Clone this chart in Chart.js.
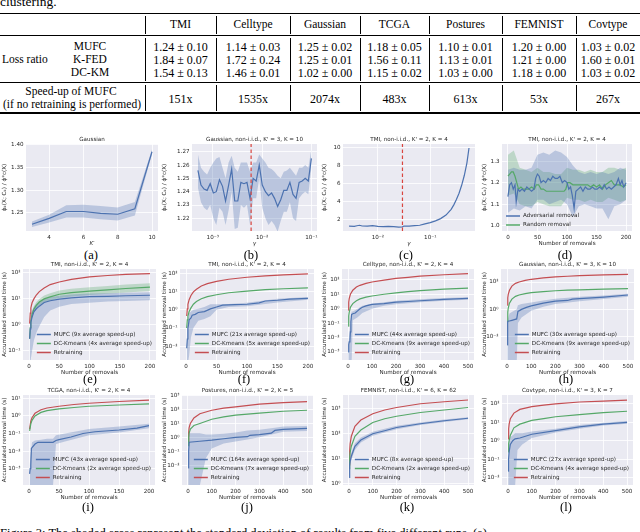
<!DOCTYPE html>
<html>
<head>
<meta charset="utf-8">
<script src="https://cdn.jsdelivr.net/npm/chart.js@4.4.1/dist/chart.umd.min.js"></script>
<style>
  body { margin: 0; background: #fff; }
  #page { position: relative; width: 640px; height: 532px; overflow: hidden; font-family: "Liberation Serif", serif; color: #000; }
  .t { position: absolute; white-space: nowrap; line-height: 1; }
  .rule { position: absolute; left: 0; width: 640px; background: #000; }
  .vl { position: absolute; width: 0.8px; background: #000; }
  canvas { position: absolute; }
</style>
</head>
<body>
<div id="page"></div>
<script>
// ---- table ----
const tableCols = ['TMI', 'Celltype', 'Gaussian', 'TCGA', 'Postures', 'FEMNIST', 'Covtype'];
const mufcLoss = ['1.24 ± 0.10', '1.14 ± 0.03', '1.25 ± 0.02', '1.18 ± 0.05', '1.10 ± 0.01', '1.20 ± 0.00', '1.03 ± 0.02'];
const kfedLoss = ['1.84 ± 0.07', '1.72 ± 0.24', '1.25 ± 0.01', '1.56 ± 0.11', '1.13 ± 0.01', '1.21 ± 0.00', '1.60 ± 0.01'];
const dckmLoss = ['1.54 ± 0.13', '1.46 ± 0.01', '1.02 ± 0.00', '1.15 ± 0.02', '1.03 ± 0.00', '1.18 ± 0.00', '1.03 ± 0.02'];
const speedups = ['151x', '1535x', '2074x', '483x', '613x', '53x', '267x'];

// ---- (a) loss ratio vs K' ----
const aK = [3, 4, 5, 6, 7, 8, 9, 10];
const aMean = [1.225, 1.238, 1.253, 1.253, 1.249, 1.247, 1.259, 1.385];
const aLo = [1.219, 1.229, 1.240, 1.240, 1.236, 1.233, 1.244, 1.380];
const aHi = [1.231, 1.246, 1.267, 1.268, 1.265, 1.262, 1.274, 1.390];

// ---- (b) loss ratio vs gamma ----
const bGamma = [5.01e-4, 5.78e-4, 6.67e-4, 7.70e-4, 8.89e-4, 1.03e-3, 1.18e-3, 1.37e-3, 1.58e-3, 1.82e-3,
  2.10e-3, 2.42e-3, 2.79e-3, 3.22e-3, 3.72e-3, 4.29e-3, 4.95e-3, 5.71e-3, 6.59e-3, 7.60e-3,
  8.77e-3, 1.01e-2, 1.17e-2, 1.35e-2, 1.56e-2, 1.79e-2, 2.07e-2, 2.39e-2, 2.76e-2, 3.18e-2,
  3.67e-2, 4.24e-2, 4.89e-2, 5.64e-2, 6.51e-2, 7.51e-2, 8.67e-2, 1.00e-1];
const bMean = [1.256, 1.245, 1.242, 1.241, 1.246, 1.239, 1.240, 1.249, 1.244, 1.233,
  1.245, 1.257, 1.233, 1.233, 1.247, 1.246, 1.247, 1.235, 1.250, 1.248,
  1.260, 1.245, 1.240, 1.237, 1.239, 1.235, 1.229, 1.234, 1.241, 1.241,
  1.247, 1.238, 1.235, 1.247, 1.248, 1.250, 1.248, 1.265];
const bLo = [1.243, 1.232, 1.228, 1.226, 1.230, 1.220, 1.215, 1.228, 1.225, 1.215,
  1.226, 1.240, 1.212, 1.213, 1.230, 1.228, 1.230, 1.215, 1.235, 1.235,
  1.250, 1.228, 1.220, 1.215, 1.218, 1.215, 1.210, 1.218, 1.225, 1.225,
  1.232, 1.220, 1.218, 1.235, 1.238, 1.240, 1.238, 1.258];
const bHi = [1.268, 1.258, 1.255, 1.253, 1.258, 1.262, 1.265, 1.266, 1.258, 1.250,
  1.262, 1.267, 1.258, 1.255, 1.262, 1.262, 1.262, 1.255, 1.262, 1.262,
  1.268, 1.265, 1.262, 1.258, 1.257, 1.255, 1.252, 1.250, 1.255, 1.256,
  1.258, 1.255, 1.252, 1.258, 1.258, 1.260, 1.258, 1.272];
const bStar = [6.0e-3];

// ---- (c) loss ratio vs gamma (TMI) ----
const cGamma = [0.00282, 0.00355, 0.00398, 0.00447, 0.00501, 0.00631, 0.00794, 0.0100, 0.0126, 0.0158,
  0.0200, 0.0251, 0.0295, 0.0316, 0.0398, 0.0501, 0.0631, 0.0794, 0.100, 0.126,
  0.158, 0.200, 0.251, 0.282, 0.316, 0.355, 0.398, 0.447, 0.501, 0.550];
const cMean = [1.20, 1.18, 1.25, 1.30, 1.22, 1.20, 1.25, 1.18, 1.15, 1.18,
  1.15, 1.10, 1.12, 1.22, 1.20, 1.25, 1.30, 1.45, 1.60, 1.80,
  2.05, 2.45, 3.10, 3.60, 4.20, 4.90, 5.80, 6.90, 8.30, 10.0];
const cStar = [0.0295];

// ---- (d) adversarial vs random removal ----
const dAdvX = [0, 3, 6, 9, 12, 14, 17, 20, 24, 28, 32, 36, 40, 44, 47, 50, 53, 56, 60, 64, 68, 72, 76, 80, 84, 88,
  92, 96, 100, 103, 106, 109, 112, 115, 119, 123, 127, 131, 135, 139, 143, 147, 151, 155, 159, 163, 167,
  171, 175, 179, 183, 187, 190, 193, 196, 200];
const dAdv = [1.135, 1.19, 1.20, 1.17, 1.19, 1.11, 1.17, 1.16, 1.17, 1.16, 1.18, 1.17, 1.16, 1.17, 1.22,
  1.24, 1.23, 1.20, 1.21, 1.20, 1.22, 1.21, 1.23, 1.22, 1.22, 1.23, 1.20, 1.21, 1.20, 1.17,
  1.18, 1.14, 1.08, 1.16, 1.17, 1.18, 1.16, 1.18, 1.17, 1.17, 1.18, 1.17, 1.17, 1.18, 1.17,
  1.19, 1.17, 1.18, 1.17, 1.18, 1.19, 1.22, 1.19, 1.21, 1.18, 1.20];
const dRandX = [0, 3, 6, 9, 12, 15, 18, 22, 26, 30, 35, 40, 45, 48, 52, 56, 60, 65, 70, 75, 80, 85, 90, 95, 98,
  101, 105, 110, 115, 120, 125, 130, 135, 140, 145, 150, 155, 160, 165, 170, 175, 180, 185, 190, 195, 200];
const dRand = [1.23, 1.24, 1.25, 1.25, 1.23, 1.20, 1.17, 1.18, 1.17, 1.17, 1.17, 1.18, 1.17, 1.19, 1.19,
  1.17, 1.17, 1.16, 1.16, 1.16, 1.16, 1.16, 1.16, 1.16, 1.17, 1.20, 1.20, 1.19, 1.19, 1.19,
  1.19, 1.19, 1.19, 1.18, 1.19, 1.18, 1.19, 1.17, 1.19, 1.20, 1.21, 1.19, 1.19, 1.19, 1.18, 1.19];
const dBandX = [0, 10, 20, 30, 40, 50, 60, 70, 80, 90, 100, 110, 120, 130, 140, 150, 160, 170, 180, 190, 200];
const dAdvLo = [1.06, 1.08, 1.07, 1.09, 1.08, 1.12, 1.12, 1.10, 1.11, 1.12, 1.10, 1.04, 1.09, 1.10, 1.09, 1.08, 1.08, 1.03, 1.09, 1.10, 1.12];
const dAdvHi = [1.26, 1.27, 1.26, 1.26, 1.27, 1.33, 1.34, 1.33, 1.35, 1.34, 1.32, 1.28, 1.25, 1.24, 1.25, 1.24, 1.25, 1.24, 1.25, 1.27, 1.26];
const dRandLo = [1.14, 1.15, 1.10, 1.09, 1.09, 1.11, 1.10, 1.09, 1.09, 1.09, 1.13, 1.12, 1.12, 1.11, 1.12, 1.11, 1.11, 1.13, 1.12, 1.11, 1.12];
const dRandHi = [1.33, 1.35, 1.27, 1.26, 1.25, 1.27, 1.25, 1.25, 1.24, 1.24, 1.27, 1.26, 1.26, 1.25, 1.26, 1.25, 1.25, 1.27, 1.27, 1.26, 1.27];

// ---- (e) TMI removal time ----
const eX = [1, 2, 3, 5, 8, 12, 17, 25, 35, 50, 70, 100, 130, 160, 200];
const eRetrain = [1.12, 2.82, 4.47, 7.08, 10.0, 14.1, 19.1, 26.3, 35.5, 44.7, 56.2, 70.8, 79.4, 87.1, 93.3];
const eDc = [0.295, 0.794, 1.41, 2.51, 3.98, 5.62, 7.59, 10.0, 12.0, 15.1, 17.4, 20.0, 22.4, 25.1, 28.2];
const eDcLo = [0.2, 0.501, 1.0, 1.91, 3.02, 4.17, 5.62, 7.24, 8.71, 10.7, 12.3, 14.1, 15.8, 17.8, 20.0];
const eDcHi = [0.447, 1.26, 2.0, 3.31, 5.25, 7.59, 10.0, 13.5, 16.6, 20.9, 24.5, 28.2, 31.6, 35.5, 39.8];
const eMufc = [0.295, 0.708, 1.26, 2.0, 3.16, 4.17, 5.25, 7.24, 8.51, 9.77, 11.0, 12.3, 12.6, 13.2, 13.8];
const eMufcLo = [0.03, 0.03, 0.05, 0.1, 0.251, 0.501, 0.891, 2.0, 3.55, 5.01, 6.31, 7.08, 7.94, 8.32, 8.91];
const eMufcHi = [0.631, 1.58, 2.51, 3.55, 5.01, 6.31, 7.94, 10.0, 11.5, 13.2, 14.8, 16.2, 16.6, 17.4, 18.2];

// ---- (f) TMI removal time ----
const fX = [1, 2, 3, 5, 8, 12, 17, 25, 35, 50, 70, 100, 130, 160, 200];
const fRetrain = [0.457, 1.12, 2.0, 3.55, 6.03, 9.55, 13.2, 20.0, 26.9, 35.5, 46.8, 60.3, 70.8, 81.3, 91.2];
const fDc = [0.1, 0.282, 0.447, 0.794, 1.26, 2.0, 2.82, 3.98, 5.25, 6.61, 8.51, 10.5, 12.6, 14.1, 15.8];
const fMufcX = [1, 2, 3, 4, 5, 8, 10, 15, 20, 30, 40, 50, 60, 80, 100, 120, 130, 150, 170, 200];
const fMufc = [0.0079, 0.0251, 0.1, 0.158, 0.282, 0.355, 0.501, 0.562, 0.708, 0.794, 1.12, 1.41, 1.78, 1.91, 2.0, 2.4, 3.02, 3.31, 3.8, 4.17];
const fBandX = [1, 3, 5, 8, 12, 20, 30, 40, 50, 70, 100, 150, 200];
const fMufcLo = [0.0011, 0.0011, 0.00316, 0.0316, 0.1, 0.251, 0.316, 0.447, 1.0, 1.41, 1.58, 2.51, 3.55];
const fMufcHi = [0.0316, 0.316, 0.631, 0.794, 1.0, 1.12, 1.41, 2.0, 2.0, 2.09, 2.4, 3.98, 5.01];

// ---- (g) Celltype removal time ----
const gX = [1, 3, 5, 10, 20, 35, 50, 75, 100, 150, 200, 250, 300, 400, 500];
const gRetrain = [0.794, 2.82, 5.01, 10.0, 19.1, 31.6, 41.7, 56.2, 70.8, 95.5, 126, 148, 178, 224, 269];
const gDc = [0.0631, 0.316, 0.562, 1.26, 2.24, 3.55, 4.79, 6.31, 7.59, 10.0, 12.6, 15.1, 17.8, 22.4, 26.3];
const gMufcX = [1, 3, 5, 8, 10, 12, 15, 20, 30, 40, 50, 60, 75, 100, 150, 200, 250, 300, 400, 500];
const gMufc = [0.001, 0.00316, 0.00501, 0.00631, 0.0251, 0.126, 0.398, 0.447, 0.501, 0.708, 1.0, 1.26, 1.58, 2.0, 2.24, 2.82, 3.16, 3.55, 4.47, 5.25];
const gBandX = [1, 10, 15, 20, 40, 60, 100, 150, 200, 300, 400, 500];
const gMufcLo = [1.6e-4, 1.6e-4, 1.6e-4, 0.158, 0.251, 0.501, 1.0, 1.58, 2.0, 2.82, 3.55, 4.17];
const gMufcHi = [0.00316, 0.1, 0.631, 0.631, 1.0, 1.58, 2.24, 2.82, 3.55, 4.47, 5.62, 6.31];

// ---- (h) Gaussian removal time ----
const hX = [1, 3, 5, 10, 20, 35, 50, 75, 100, 150, 200, 250, 300, 400, 500];
const hRetrain = [2.0, 7.08, 12.6, 25.1, 50.1, 79.4, 100, 132, 158, 200, 234, 263, 288, 331, 363];
const hDc = [0.126, 0.631, 1.26, 2.82, 5.62, 8.91, 11.2, 14.1, 16.6, 20.0, 22.9, 25.1, 26.9, 30.2, 33.1];
const hMufcX = [1, 2, 3, 5, 10, 20, 30, 40, 45, 60, 80, 100, 150, 200, 250, 270, 300, 400, 500];
const hMufc = [0.00251, 0.0316, 0.126, 0.141, 0.141, 0.158, 0.178, 0.2, 0.708, 1.0, 1.41, 1.78, 2.82, 3.98, 4.47, 5.62, 6.03, 7.94, 11.2];
const hBandX = [1, 10, 20, 40, 45, 60, 100, 150, 200, 300, 400, 500];
const hMufcLo = [1.2e-4, 1.2e-4, 1.2e-4, 1.2e-4, 0.1, 0.251, 0.794, 1.58, 2.51, 3.98, 5.62, 8.32];
const hMufcHi = [0.126, 0.501, 0.631, 1.0, 2.0, 2.51, 3.16, 4.47, 6.03, 8.32, 10.5, 14.1];

// ---- (i) TCGA removal time ----
const iX = [1, 3, 5, 10, 20, 30, 50, 75, 100, 150, 200];
const iRetrain = [0.178, 0.501, 0.794, 1.41, 2.24, 2.82, 3.55, 4.47, 5.25, 6.61, 7.94];
const iDc = [0.141, 0.355, 0.562, 1.0, 1.58, 2.0, 2.51, 3.02, 3.55, 4.17, 4.79];
const iMufcX = [1, 2, 3, 4, 5, 10, 15, 40, 45, 50, 70, 90, 110, 150, 180, 200];
const iMufc = [5.01e-4, 0.001, 0.00158, 0.0141, 0.0158, 0.0251, 0.0316, 0.0316, 0.0398, 0.0447, 0.0631, 0.1, 0.126, 0.158, 0.2, 0.282];
const iBandX = [1, 5, 10, 20, 30, 40, 45, 60, 100, 150, 200];
const iMufcLo = [1.1e-4, 1.1e-4, 1.1e-4, 1.1e-4, 1.1e-4, 1.1e-4, 0.0251, 0.0355, 0.0794, 0.112, 0.2];
const iMufcHi = [0.00158, 0.0316, 0.0398, 0.0447, 0.0501, 0.0501, 0.0794, 0.1, 0.178, 0.251, 0.355];

// ---- (j) Postures removal time ----
const jX = [1, 3, 5, 10, 25, 50, 100, 150, 200, 300, 400, 500];
const jRetrain = [0.501, 2.24, 5.01, 10.0, 25.1, 50.1, 89.1, 126, 158, 251, 316, 380];
const jDc = [0.251, 1.0, 2.0, 3.98, 7.08, 10.0, 20.0, 29.5, 39.8, 56.2, 75.9, 89.1];
const jMufcX = [1, 3, 5, 50, 100, 150, 200, 250, 260, 300, 350, 365, 400, 500];
const jMufc = [0.0063, 0.1, 0.447, 0.525, 0.631, 0.794, 1.0, 1.12, 1.41, 1.58, 2.0, 3.16, 3.8, 4.47];
const jBandX = [1, 5, 25, 50, 75, 100, 150, 200, 250, 300, 365, 400, 500];
const jMufcLo = [3.5e-4, 3.5e-4, 3.5e-4, 3.5e-4, 0.0316, 0.158, 0.355, 0.501, 0.708, 1.0, 1.78, 2.51, 2.82];
const jMufcHi = [0.1, 2.0, 2.0, 2.0, 1.58, 1.58, 1.78, 2.24, 3.16, 3.55, 5.01, 6.03, 6.61];

// ---- (k) FEMNIST removal time ----
const kX = [1, 3, 5, 10, 25, 50, 100, 150, 200, 300, 400, 500];
const kRetrain = [5.62, 20.0, 39.8, 79.4, 200, 355, 631, 891, 1122, 1585, 1905, 2239];
const kDc = [3.98, 11.2, 17.8, 31.6, 79.4, 141, 282, 398, 501, 708, 891, 1122];
const kMufc = [1.78, 5.62, 7.94, 12.6, 31.6, 56.2, 100, 132, 178, 251, 331, 417];
const kMufcLo = [1.26, 3.98, 5.62, 8.91, 22.4, 44.7, 83.2, 112, 151, 224, 295, 380];
const kMufcHi = [2.51, 7.94, 11.2, 17.8, 41.7, 70.8, 120, 158, 209, 282, 372, 457];

// ---- (l) Covtype removal time ----
const lX = [1, 3, 5, 10, 25, 50, 100, 150, 200, 300, 400, 500];
const lRetrain = [1.26, 4.47, 7.94, 15.8, 31.6, 50.1, 70.8, 85.1, 100, 126, 141, 158];
const lDc = [0.251, 0.708, 1.0, 2.0, 5.01, 7.94, 12.6, 15.8, 20.0, 26.3, 33.1, 39.8];
const lMufcX = [1, 2, 3, 5, 10, 20, 30, 50, 100, 200, 300, 400, 500];
const lMufc = [0.0224, 0.0501, 0.1, 0.251, 0.631, 1.0, 1.26, 1.41, 2.24, 3.55, 5.62, 7.94, 10.0];
const lBandX = [1, 5, 10, 20, 30, 40, 60, 100, 200, 300, 400, 500];
const lMufcLo = [0.0035, 0.0035, 0.0035, 0.0035, 0.0035, 0.316, 0.631, 1.41, 2.82, 4.47, 6.61, 8.32];
const lMufcHi = [0.1, 1.0, 1.58, 2.0, 2.51, 2.51, 2.51, 3.16, 4.47, 7.08, 9.55, 11.7];

// ---- tick values ----
const ticks200 = [0, 50, 100, 150, 200];
const ticks500 = [0, 100, 200, 300, 400, 500];
const aXTicks = [4, 6, 8, 10];
const aYTicks = [1.25, 1.30, 1.35, 1.40];
const bXTicks = [1e-3, 1e-2, 1e-1];
const bYTicks = [1.22, 1.23, 1.24, 1.25, 1.26, 1.27];
const cXTicks = [1e-2, 1e-1];
const cYTicks = [2, 4, 6, 8, 10];
const dYTicks = [1.0, 1.1, 1.2, 1.3];
const eYTicks = [1e-1, 1, 1e1, 1e2];
const fYTicks = [1e-2, 1e-1, 1, 1e1, 1e2];
const gYTicks = [1e-3, 1e-2, 1e-1, 1, 1e1, 1e2];
const hYTicks = [1e-2, 1, 1e2];
const iYTicks = [1e-3, 1e-2, 1e-1, 1, 1e1];
const jYTicks = [1e-2, 1e-1, 1, 1e1, 1e2, 1e3];
const kYTicks = [1, 1e1, 1e2, 1e3];
const lYTicks = [1e-2, 1e-1, 1, 1e1, 1e2];

// ---- helpers ----
const page = document.getElementById('page');
const SANS = '"DejaVu Sans", sans-serif';
const INK = '#262626';
const FS = 5.6;
const TOPH = 10, XH = 17, RP = 6;
const BLUE = '#4C72B0', GREEN = '#55A868', RED = '#C44E52';
const BLUE_BAND = 'rgba(76,114,176,0.3)', GREEN_BAND = 'rgba(85,168,104,0.3)';

function txt(str, x, y, size, opts = {}) {
  const d = document.createElement('div');
  d.className = 't';
  d.textContent = str;
  d.style.fontSize = size + 'px';
  d.style.top = (y - size * 0.5) + 'px';
  if (opts.family) d.style.fontFamily = opts.family;
  if (opts.weight) d.style.fontWeight = opts.weight;
  d.style.left = x + 'px';
  if (!opts.left) d.style.transform = 'translateX(-50%)';
  page.appendChild(d);
  return d;
}
function rule(y, h) {
  const d = document.createElement('div');
  d.className = 'rule'; d.style.top = y + 'px'; d.style.height = h + 'px';
  page.appendChild(d);
}
function vline(x, y0, y1) {
  const d = document.createElement('div');
  d.className = 'vl'; d.style.left = x + 'px'; d.style.top = y0 + 'px'; d.style.height = (y1 - y0) + 'px';
  page.appendChild(d);
}

const SUP = { '-': '⁻', '0': '⁰', '1': '¹', '2': '²', '3': '³', '4': '⁴', '5': '⁵', '6': '⁶', '7': '⁷', '8': '⁸', '9': '⁹' };
const pow10 = v => '10' + String(Math.round(Math.log10(v))).split('').map(ch => SUP[ch]).join('');
const fix2 = v => v.toFixed(2);
const fix1 = v => v.toFixed(1);
const plain = v => String(v);

const pts = (xs, ys) => xs.map((x, i) => ({ x, y: ys[i] }));
const line = (xs, ys, color) => ({ data: pts(xs, ys), borderColor: color, borderWidth: 1.2, fill: false });
const edge = (xs, ys) => ({ data: pts(xs, ys), borderColor: 'rgba(0,0,0,0)', borderWidth: 0, fill: false });
const band = (xs, ys, color) => ({ data: pts(xs, ys), borderColor: 'rgba(0,0,0,0)', borderWidth: 0, backgroundColor: color, fill: '-1' });
const vmark = (x, y0, y1) => ({ data: [{ x, y: y0 }, { x, y: y1 }], borderColor: '#D9453F', borderWidth: 1.2, borderDash: [3.5, 2.5], fill: false });

const plotBg = {
  id: 'plotBg',
  beforeDraw(chart) {
    const { ctx, chartArea: a } = chart;
    ctx.save();
    ctx.fillStyle = '#EAEAF2';
    ctx.fillRect(a.left, a.top, a.right - a.left, a.bottom - a.top);
    ctx.restore();
  }
};

// legend drawn inside the axes, like matplotlib
const innerLegend = {
  id: 'innerLegend',
  afterDatasetsDraw(chart, args, opts) {
    if (!opts.items) return;
    const { ctx, chartArea: a } = chart;
    ctx.save();
    ctx.font = FS + 'px ' + SANS;
    const w = Math.max(...opts.items.map(it => ctx.measureText(it.text).width)) + 17;
    const x0 = opts.align === 'right' ? a.right - opts.dx - w : a.left + opts.dx;
    const n = opts.items.length;
    opts.items.forEach((it, i) => {
      const y = a.bottom - opts.dy - (n - 1 - i) * 9;
      ctx.strokeStyle = it.color; ctx.lineWidth = 1.5;
      ctx.beginPath(); ctx.moveTo(x0, y); ctx.lineTo(x0 + 14, y); ctx.stroke();
      ctx.fillStyle = INK; ctx.textBaseline = 'middle'; ctx.textAlign = 'left';
      ctx.fillText(it.text, x0 + 17, y);
    });
    ctx.restore();
  }
};

function axis(a, isX, size) {
  return {
    type: a.type || 'linear', min: a.min, max: a.max, position: isX ? 'bottom' : 'left',
    afterBuildTicks: s => { s.ticks = a.ticks.map(v => ({ value: v })); },
    afterFit: s => { if (isX) s.height = size; else s.width = size; },
    grid: { color: '#ffffff', lineWidth: 0.8, drawTicks: false },
    border: { display: false },
    ticks: { color: INK, font: { family: SANS, size: FS }, padding: isX ? 3 : 2.5, autoSkip: false, maxRotation: 0, minRotation: 0, callback: v => a.fmt(v) },
    title: { display: true, text: a.label, color: INK, font: { family: SANS, size: FS, style: a.italic ? 'italic' : 'normal' },
      padding: isX ? { top: 0, bottom: 1.5 } : { top: 1.5, bottom: 0 } }
  };
}

function panel(p) {
  const cv = document.createElement('canvas');
  const w = p.r - p.col + RP, h = p.b - p.t + TOPH + XH;
  cv.width = w; cv.height = h;
  cv.style.left = p.col + 'px'; cv.style.top = (p.t - TOPH) + 'px';
  cv.style.width = w + 'px'; cv.style.height = h + 'px';
  page.appendChild(cv);
  new Chart(cv, {
    type: 'line',
    data: { datasets: p.datasets },
    options: {
      responsive: false, animation: false, devicePixelRatio: 1, events: [],
      layout: { autoPadding: false, padding: { left: 0, right: RP, top: 0, bottom: 0 } },
      elements: { point: { radius: 0 }, line: { tension: 0 } },
      plugins: {
        legend: { display: false }, tooltip: { enabled: false },
        title: { display: true, text: p.title, color: INK, font: { family: SANS, size: FS, weight: 'normal' }, fullSize: false,
          padding: { top: TOPH - FS * 1.2 - 1.5, bottom: 1.5 } },
        innerLegend: p.legend || {}
      },
      scales: { x: axis(p.x, true, XH), y: axis(p.y, false, p.l - p.col) }
    },
    plugins: [plotBg, innerLegend]
  });
  txt(p.cap, p.capX, p.capY, 12.5);
}

// ---- table drawing ----
txt('clustering.', 0, 1.5, 13.5, { left: true });
const seps = [145, 216, 290, 360, 429, 502, 576];
const colEnd = seps.slice(1).concat([640]);
rule(12.5, 1.6);
rule(34.6, 0.8);
rule(82.2, 0.8);
rule(112.2, 1.6);
seps.forEach(x => { vline(x, 15.5, 33.8); vline(x, 37.5, 81); vline(x, 84.5, 111); });
tableCols.forEach((c, i) => txt(c, (seps[i] + colEnd[i]) / 2, 24.5, 11.5));
mufcLoss.forEach((v, i) => txt(v, (seps[i] + colEnd[i]) / 2, 46.5, 12));
kfedLoss.forEach((v, i) => txt(v, (seps[i] + colEnd[i]) / 2, 59.5, 12));
dckmLoss.forEach((v, i) => txt(v, (seps[i] + colEnd[i]) / 2, 72.5, 12));
speedups.forEach((v, i) => txt(v, (seps[i] + colEnd[i]) / 2, 98.5, 12));
txt('Loss ratio', 2, 59.5, 11.5, { left: true });
txt('MUFC', 90, 46.5, 11.5);
txt('K-FED', 90, 59.5, 11.5);
txt('DC-KM', 90, 72.5, 11.5);
txt('Speed-up of MUFC', 71, 92, 11.5);
txt('(if no retraining is performed)', 72, 105, 11.5);

// ---- panels ----
const R1 = { t: 144, b: 231 }, R2 = { t: 269, b: 360 }, R3 = { t: 395, b: 485 };
const lossLabel = 'ϕₖ(X; Cₖ) / ϕ*c(X)';
const timeLabel = 'Accumulated removal time (s)';
const remLabel = 'Number of removals';
const x200 = { min: -10, max: 210, ticks: ticks200, fmt: plain, label: remLabel };
const x500 = { min: -25, max: 525, ticks: ticks500, fmt: plain, label: remLabel };
const legend3 = (m, d) => ({ align: 'right', dx: 4, dy: 7.5, items: [
  { text: 'MUFC (' + m + ' average speed-up)', color: BLUE },
  { text: 'DC-Kmeans (' + d + ' average speed-up)', color: GREEN },
  { text: 'Retraining', color: RED }] });

panel({ col: 0, l: 26, r: 158, ...R1, title: 'Gaussian', cap: '(a)', capX: 91, capY: 255,
  x: { min: 2.65, max: 10.35, ticks: aXTicks, fmt: plain, label: 'K′', italic: true },
  y: { min: 1.21, max: 1.402, ticks: aYTicks, fmt: fix2, label: lossLabel },
  datasets: [line(aK, aMean, BLUE), edge(aK, aLo), band(aK, aHi, BLUE_BAND)] });

panel({ col: 160, l: 192, r: 317, ...R1, title: "Gaussian, non-i.i.d., K' = 3, K = 10", cap: '(b)', capX: 251, capY: 255,
  x: { type: 'logarithmic', min: 3.8e-4, max: 0.130, ticks: bXTicks, fmt: pow10, label: 'γ', italic: true },
  y: { min: 1.2105, max: 1.2758, ticks: bYTicks, fmt: fix2, label: lossLabel },
  datasets: [vmark(bStar[0], 1.2105, 1.2758), line(bGamma, bMean, BLUE), edge(bGamma, bLo), band(bGamma, bHi, BLUE_BAND)] });

panel({ col: 320, l: 343, r: 475, ...R1, title: "TMI, non-i.i.d., K' = 2, K = 4", cap: '(c)', capX: 406, capY: 255,
  x: { type: 'logarithmic', min: 2.16e-3, max: 0.716, ticks: cXTicks, fmt: pow10, label: 'γ', italic: true },
  y: { min: 0.655, max: 10.45, ticks: cYTicks, fmt: plain, label: lossLabel },
  datasets: [vmark(cStar[0], 0.655, 10.45), line(cGamma, cMean, BLUE)] });

panel({ col: 480, l: 502, r: 632, ...R1, title: "TMI, non-i.i.d., K' = 2, K = 4", cap: '(d)', capX: 565, capY: 255,
  x: x200,
  y: { min: 0.975, max: 1.38, ticks: dYTicks, fmt: fix1, label: lossLabel },
  legend: { align: 'left', dx: 4, dy: 6, items: [{ text: 'Adversarial removal', color: BLUE }, { text: 'Random removal', color: GREEN }] },
  datasets: [line(dAdvX, dAdv, BLUE), line(dRandX, dRand, GREEN),
    edge(dBandX, dAdvLo), band(dBandX, dAdvHi, BLUE_BAND), edge(dBandX, dRandLo), band(dBandX, dRandHi, GREEN_BAND)] });

panel({ col: 0, l: 23, r: 156, ...R2, title: "TMI, non-i.i.d., K' = 2, K = 4", cap: '(e)', capX: 90, capY: 379,
  x: x200, y: { type: 'logarithmic', min: 0.0447, max: 141, ticks: eYTicks, fmt: pow10, label: timeLabel },
  legend: legend3('9x', '4x'),
  datasets: [line(eX, eMufc, BLUE), line(eX, eDc, GREEN), line(eX, eRetrain, RED),
    edge(eX, eMufcLo), band(eX, eMufcHi, BLUE_BAND), edge(eX, eDcLo), band(eX, eDcHi, GREEN_BAND)] });

panel({ col: 160, l: 180, r: 314, ...R2, title: "TMI, non-i.i.d., K' = 2, K = 4", cap: '(f)', capX: 244, capY: 379,
  x: x200, y: { type: 'logarithmic', min: 0.00178, max: 170, ticks: fYTicks, fmt: pow10, label: timeLabel },
  legend: legend3('21x', '5x'),
  datasets: [line(fMufcX, fMufc, BLUE), line(fX, fDc, GREEN), line(fX, fRetrain, RED),
    edge(fBandX, fMufcLo), band(fBandX, fMufcHi, BLUE_BAND)] });

panel({ col: 320, l: 342, r: 474, ...R2, title: "Celltype, non-i.i.d., K' = 2, K = 4", cap: '(g)', capX: 407, capY: 379,
  x: x500, y: { type: 'logarithmic', min: 2.8e-4, max: 562, ticks: gYTicks, fmt: pow10, label: timeLabel },
  legend: legend3('44x', '9x'),
  datasets: [line(gMufcX, gMufc, BLUE), line(gX, gDc, GREEN), line(gX, gRetrain, RED),
    edge(gBandX, gMufcLo), band(gBandX, gMufcHi, BLUE_BAND)] });

panel({ col: 480, l: 501, r: 634, ...R2, title: "Gaussian, non-i.i.d., K' = 3, K = 10", cap: '(h)', capX: 566, capY: 379,
  x: x500, y: { type: 'logarithmic', min: 2e-4, max: 891, ticks: hYTicks, fmt: pow10, label: timeLabel },
  legend: legend3('30x', '9x'),
  datasets: [line(hMufcX, hMufc, BLUE), line(hX, hDc, GREEN), line(hX, hRetrain, RED),
    edge(hBandX, hMufcLo), band(hBandX, hMufcHi, BLUE_BAND)] });

panel({ col: 0, l: 23, r: 155, ...R3, title: "TCGA, non-i.i.d., K' = 2, K = 4", cap: '(i)', capX: 88, capY: 507,
  x: x200, y: { type: 'logarithmic', min: 1.17e-4, max: 15.5, ticks: iYTicks, fmt: pow10, label: timeLabel },
  legend: legend3('43x', '2x'),
  datasets: [line(iMufcX, iMufc, BLUE), line(iX, iDc, GREEN), line(iX, iRetrain, RED),
    edge(iBandX, iMufcLo), band(iBandX, iMufcHi, BLUE_BAND)] });

panel({ col: 160, l: 182, r: 313, ...R3, title: "Postures, non-i.i.d., K' = 2, K = 5", cap: '(j)', capX: 247, capY: 507,
  x: x500, y: { type: 'logarithmic', min: 3.7e-4, max: 1122, ticks: jYTicks, fmt: pow10, label: timeLabel },
  legend: legend3('164x', '7x'),
  datasets: [line(jMufcX, jMufc, BLUE), line(jX, jDc, GREEN), line(jX, jRetrain, RED),
    edge(jBandX, jMufcLo), band(jBandX, jMufcHi, BLUE_BAND)] });

panel({ col: 320, l: 343, r: 474, ...R3, title: "FEMNIST, non-i.i.d., K' = 6, K = 62", cap: '(k)', capX: 407, capY: 507,
  x: x500, y: { type: 'logarithmic', min: 0.891, max: 3548, ticks: kYTicks, fmt: pow10, label: timeLabel },
  legend: legend3('8x', '2x'),
  datasets: [line(kX, kMufc, BLUE), line(kX, kDc, GREEN), line(kX, kRetrain, RED),
    edge(kX, kMufcLo), band(kX, kMufcHi, BLUE_BAND)] });

panel({ col: 480, l: 502, r: 633, ...R3, title: "Covtype, non-i.i.d., K' = 3, K = 7", cap: '(l)', capX: 566, capY: 507,
  x: x500, y: { type: 'logarithmic', min: 0.00398, max: 302, ticks: lYTicks, fmt: pow10, label: timeLabel },
  legend: legend3('27x', '4x'),
  datasets: [line(lMufcX, lMufc, BLUE), line(lX, lDc, GREEN), line(lX, lRetrain, RED),
    edge(lBandX, lMufcLo), band(lBandX, lMufcHi, BLUE_BAND)] });

txt('Figure 3:  The shaded areas represent the standard deviation of results from five different runs.  (a)', 0, 533, 12.5, { left: true });
</script>
</body>
</html>
